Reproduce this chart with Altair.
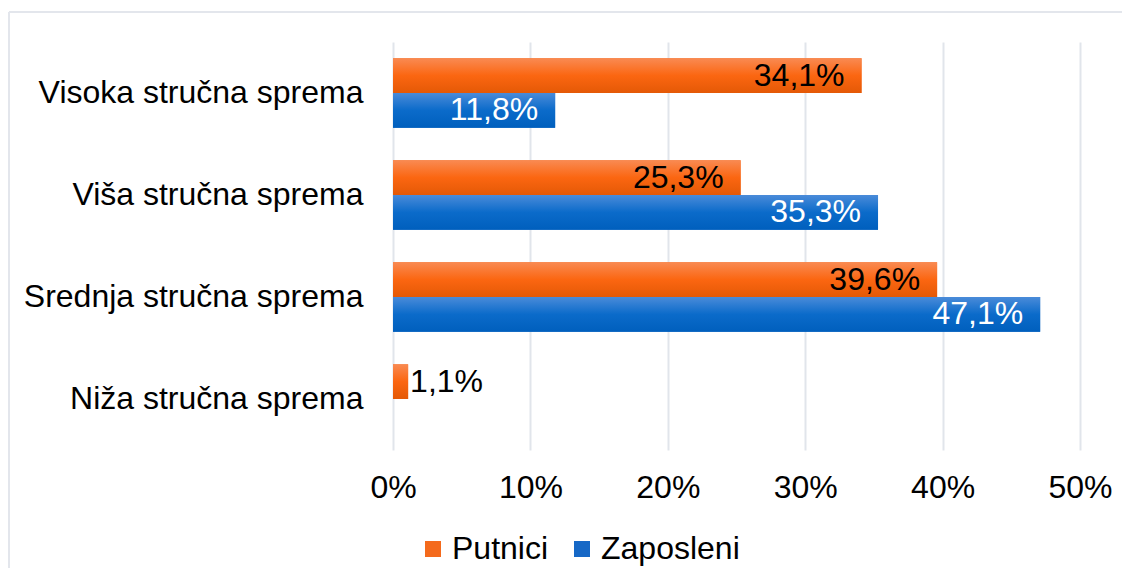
import altair as alt
import pandas as pd

categories = ["Visoka stručna sprema", "Viša stručna sprema", "Srednja stručna sprema", "Niža stručna sprema"]
series = ["Putnici", "Zaposleni"]
putnici = [34.1, 25.3, 39.6, 1.1]
zaposleni = [11.8, 35.3, 47.1, None]
x_ticks = [0, 10, 20, 30, 40, 50]

rows = []
for c, p, z in zip(categories, putnici, zaposleni):
    if p is not None:
        rows.append({"cat": c, "series": "Putnici", "value": p})
    if z is not None:
        rows.append({"cat": c, "series": "Zaposleni", "value": z})
df = pd.DataFrame(rows)

FONT = "Liberation Sans"
FS = 32

orange_grad = alt.Gradient(
    gradient="linear", x1=0, x2=0, y1=0, y2=1,
    stops=[alt.GradientStop(color="#F98A52", offset=0),
           alt.GradientStop(color="#FB6611", offset=0.5),
           alt.GradientStop(color="#E45906", offset=1)])
blue_grad = alt.Gradient(
    gradient="linear", x1=0, x2=0, y1=0, y2=1,
    stops=[alt.GradientStop(color="#4A8BD9", offset=0),
           alt.GradientStop(color="#0B6BCA", offset=0.5),
           alt.GradientStop(color="#005FBD", offset=1)])

base = alt.Chart(df).transform_calculate(
    label="replace(format(datum.value, '.1f'), '.', ',') + '%'"
).encode(
    y=alt.Y("cat:N", sort=categories,
            scale=alt.Scale(paddingInner=0.32, paddingOuter=0.16),
            axis=alt.Axis(title=None, labelFontSize=FS, labelPadding=30, ticks=False,
                          domain=False, grid=False, labelColor="#000000", labelFont=FONT,
                          labelLimit=600)),
    yOffset=alt.YOffset("series:N", sort=series, scale=alt.Scale(domain=series)),
    x=alt.X("value:Q", scale=alt.Scale(domain=[0, 50], nice=False),
            axis=alt.Axis(title=None, values=x_ticks, labelExpr="datum.value + '%'",
                          labelFontSize=FS, labelPadding=22, ticks=False, domain=False,
                          labelFlush=False,
                          grid=True, gridColor="#E1E5EB", gridWidth=2,
                          labelColor="#000000", labelFont=FONT)),
)

bars = base.mark_bar().encode(
    color=alt.Color("series:N",
                    scale=alt.Scale(domain=series, range=["#F46A1C", "#1668C6"]),
                    legend=alt.Legend(title=None, orient="none", legendX=24, legendY=491,
                                      direction="horizontal", symbolType="square",
                                      symbolSize=256, symbolStrokeWidth=0,
                                      labelFontSize=FS, labelFont=FONT, labelColor="#000000",
                                      columnPadding=17, labelOffset=3))
)

bars_o = base.transform_filter("datum.series == 'Putnici'").mark_bar(fill=orange_grad)
bars_b = base.transform_filter("datum.series == 'Zaposleni'").mark_bar(fill=blue_grad)

text_in = base.transform_filter("datum.value >= 5").mark_text(
    align="right", baseline="middle", dx=-17, fontSize=FS, font=FONT
).encode(
    text="label:N",
    color=alt.condition("datum.series == 'Zaposleni'", alt.value("#FFFFFF"), alt.value("#000000")),
)

text_out = base.transform_filter("datum.value < 5").mark_text(
    align="left", baseline="middle", dx=2, fontSize=FS, font=FONT, color="#000000"
).encode(text="label:N")

frame_data = alt.Data(values=[{"a": 1}])
frame_top = alt.Chart(frame_data).mark_rule(color="#E3E6EC", strokeWidth=2).encode(
    x=alt.value(-384), x2=alt.value(729), y=alt.value(-30))
frame_left = alt.Chart(frame_data).mark_rule(color="#E3E6EC", strokeWidth=2).encode(
    x=alt.value(-384), y=alt.value(-30), y2=alt.value(530))

chart = alt.layer(frame_top, frame_left, bars, bars_o, bars_b, text_in, text_out).properties(
    width=687, height=408,
    padding={"left": 385, "top": 34, "right": 43, "bottom": 118},
    autosize=alt.AutoSizeParams(type="none"),
).configure(font=FONT).configure_view(stroke=None)

chart.save("out.html", embed_options={"renderer": "svg", "actions": False})
